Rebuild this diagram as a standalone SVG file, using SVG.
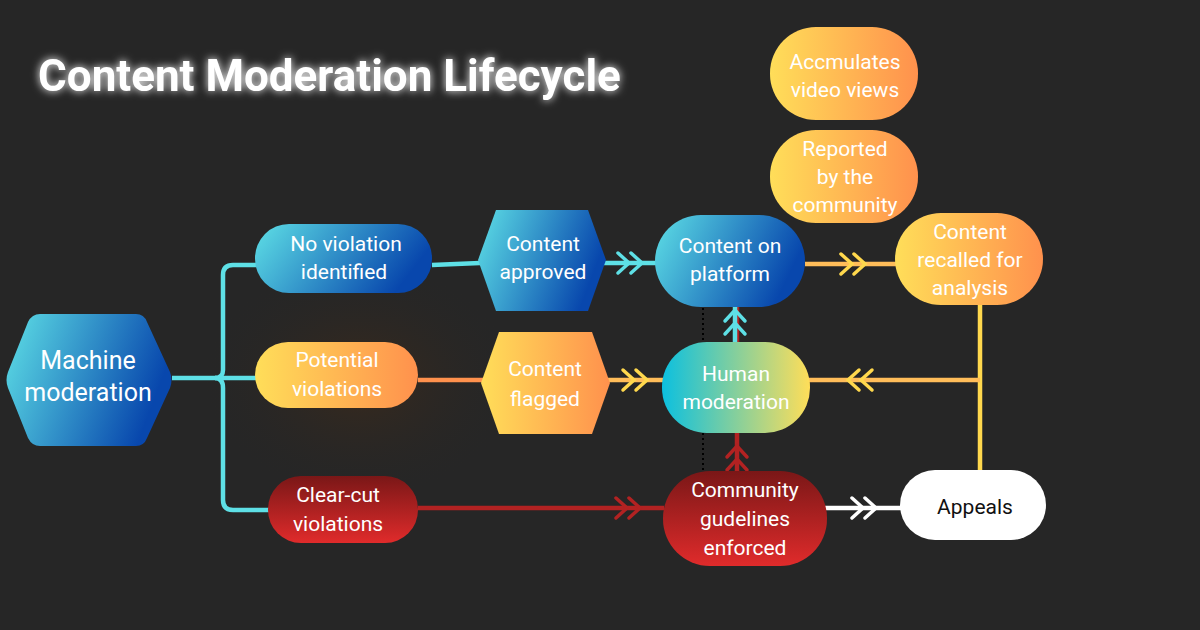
<svg xmlns="http://www.w3.org/2000/svg" width="1200" height="630" viewBox="0 0 1200 630">
<defs>
<linearGradient id="gBlue" x1="0" y1="0" x2="1" y2="0.3"><stop offset="0" stop-color="#5ee0e6"/><stop offset="1" stop-color="#0847ad"/></linearGradient>
<linearGradient id="gOr" x1="0" y1="0" x2="1" y2="0"><stop offset="0" stop-color="#ffde59"/><stop offset="1" stop-color="#ff914d"/></linearGradient>
<linearGradient id="gRed" x1="0" y1="0" x2="0" y2="1"><stop offset="0" stop-color="#7a1717"/><stop offset="1" stop-color="#e02b2b"/></linearGradient>
<linearGradient id="gHum" x1="0" y1="0" x2="1" y2="0"><stop offset="0" stop-color="#0cc0df"/><stop offset="1" stop-color="#ffde59"/></linearGradient>
<radialGradient id="glow" cx="0.5" cy="0.5" r="0.5"><stop offset="0" stop-color="#3a2a1c"/><stop offset="1" stop-color="#262626" stop-opacity="0"/></radialGradient>
<filter id="tglow" x="-10%" y="-50%" width="120%" height="200%"><feGaussianBlur stdDeviation="4" result="b"/><feMerge><feMergeNode in="b"/><feMergeNode in="SourceGraphic"/></feMerge></filter>
<path id="chev" d="M-14,-10 L-3,0 L-14,10 M-1,-10 L10,0 L-1,10" fill="none" stroke-width="3.5" stroke-linecap="round"/>
</defs>
<style>
text{font-family:Roboto,"Liberation Sans",sans-serif;font-size:21px;fill:#fff;text-anchor:middle}
.ln{fill:none;stroke-width:4.5}
</style>
<rect width="1200" height="630" fill="#262626"/>
<ellipse cx="360" cy="380" rx="160" ry="120" fill="url(#glow)"/>
<text x="38" y="91" style="font-size:44px;font-weight:bold;text-anchor:start" filter="url(#tglow)">Content Moderation Lifecycle</text>

<g id="connectors">
<path class="ln" stroke="#5ee0e6" d="M172,378 H215 Q223,378 223,370 V275 Q223,265 233,265 H256"/>
<path class="ln" stroke="#5ee0e6" d="M215,378 Q223,378 223,388 V500 Q223,510 233,510 H270"/>
<path class="ln" stroke="#5ee0e6" d="M215,378 H256"/>
<path class="ln" stroke="#5ee0e6" d="M432,265 L480,263"/>
<path class="ln" stroke="#5ee0e6" d="M603,263 H656"/>
<use href="#chev" transform="translate(632,263)" stroke="#5ee0e6"/>
<path class="ln" stroke="#ffbd59" d="M805,264 H896"/>
<use href="#chev" transform="translate(855,264)" stroke="#ffd84d"/>
<path class="ln" stroke="#ff914d" d="M418,380 H484"/>
<path class="ln" stroke="#ffbd59" d="M608,380 H663"/>
<use href="#chev" transform="translate(637,380)" stroke="#ffd84d"/>
<path class="ln" stroke="#ffd84d" d="M980,305 V472"/>
<path class="ln" stroke="#ffbd59" d="M980,380 H809"/>
<use href="#chev" transform="translate(858,380) rotate(180)" stroke="#ffd84d"/>
<path class="ln" stroke="#b22222" d="M418,508 H664"/>
<use href="#chev" transform="translate(630,508)" stroke="#b22222"/>
<path class="ln" stroke="#ffffff" d="M825,508 H902"/>
<use href="#chev" transform="translate(866,508)" stroke="#ffffff"/>
<path class="ln" stroke="#b22222" d="M737,472 V306"/>
<use href="#chev" transform="translate(737,456) rotate(-90)" stroke="#b22222"/>
<path class="ln" stroke="#5ee0e6" d="M735,342 V306"/>
<use href="#chev" transform="translate(735,320) rotate(-90)" stroke="#5ee0e6"/>
<path d="M703,308 V470" stroke="#000" stroke-width="2" stroke-dasharray="2,3"/>
</g>

<g id="machine"><path d="M8,372 L28,322 Q32,314 40,314 H136 Q144,314 147,322 L170,372 Q173,380 170,388 L147,438 Q144,446 136,446 H40 Q32,446 28,438 L8,388 Q5,380 8,372 Z" fill="url(#gBlue)"/><text x="88" y="369" style="font-size:25px">Machine</text><text x="88" y="401" style="font-size:25px">moderation</text></g>
<g id="noviol"><rect x="255" y="224" width="177" height="69" rx="34" fill="url(#gBlue)"/><text x="346" y="251">No violation</text><text x="344" y="279">identified</text></g>
<g id="potential"><rect x="255" y="342" width="163" height="66" rx="33" fill="url(#gOr)"/><text x="337" y="367">Potential</text><text x="337" y="396">violations</text></g>
<g id="clearcut"><rect x="268" y="476" width="150" height="67" rx="33" fill="url(#gRed)"/><text x="338" y="502">Clear-cut</text><text x="338" y="531">violations</text></g>
<g id="approved"><path d="M478,260 L496,210 H588 L606,260 L588,311 H496 Z" fill="url(#gBlue)"/><text x="543" y="251">Content</text><text x="543" y="279">approved</text></g>
<g id="flagged"><path d="M481,383 L499,332 H592 L610,383 L592,434 H499 Z" fill="url(#gOr)"/><text x="545" y="376">Content</text><text x="545" y="406">flagged</text></g>
<g id="platform"><rect x="655" y="215" width="150" height="92" rx="46" fill="url(#gBlue)"/><text x="730" y="253">Content on</text><text x="730" y="281">platform</text></g>
<g id="human"><rect x="662" y="342" width="148" height="91" rx="45" fill="url(#gHum)"/><text x="736" y="381">Human</text><text x="736" y="409">moderation</text></g>
<g id="community"><rect x="663" y="471" width="164" height="95" rx="47" fill="url(#gRed)"/><text x="745" y="497">Community</text><text x="745" y="526">gudelines</text><text x="745" y="555">enforced</text></g>
<g id="appeals"><rect x="900" y="470" width="146" height="70" rx="35" fill="#fff"/><text x="975" y="514" style="fill:#111">Appeals</text></g>
<g id="recalled"><rect x="895" y="213" width="148" height="92" rx="46" fill="url(#gOr)"/><text x="970" y="239">Content</text><text x="970" y="267">recalled for</text><text x="970" y="295">analysis</text></g>
<g id="reported"><rect x="770" y="130" width="148" height="93" rx="46" fill="url(#gOr)"/><text x="845" y="156">Reported</text><text x="845" y="184">by the</text><text x="845" y="212">community</text></g>
<g id="views"><rect x="770" y="27" width="148" height="93" rx="46" fill="url(#gOr)"/><text x="845" y="69">Accmulates</text><text x="845" y="97">video views</text></g>
</svg>
